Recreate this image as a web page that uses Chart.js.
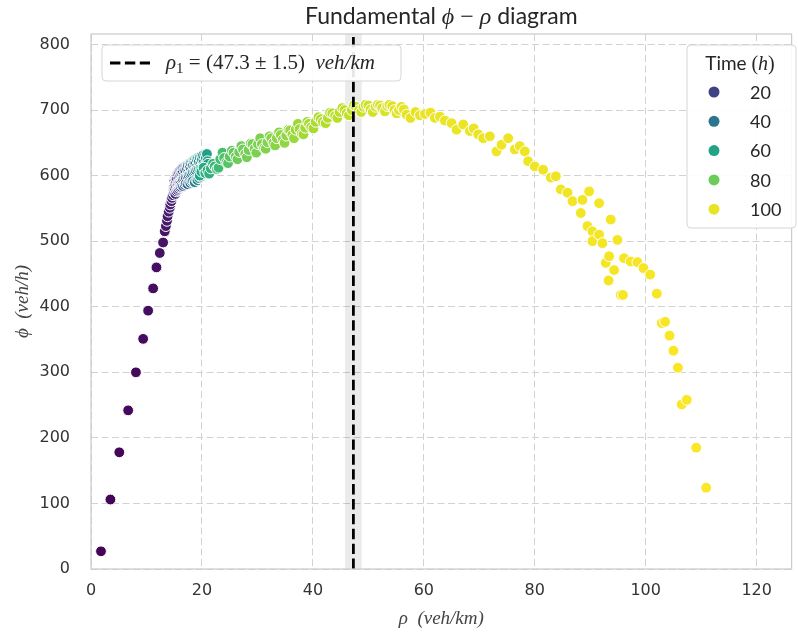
<!DOCTYPE html>
<html>
<head>
<meta charset="utf-8">
<script src="https://cdn.jsdelivr.net/npm/chart.js@4.4.0/dist/chart.umd.min.js"></script>
<style>
  html, body { margin: 0; padding: 0; background: #fff; }
  #wrap { width: 798px; height: 632px; }
</style>
</head>
<body>
<div id="wrap"><canvas id="grafico" width="798" height="632"></canvas></div>
<script>
// densidade (veh/km)
const rho = [
  1.8,3.5,5.1,6.7,8.1,9.4,10.3,11.2,11.8,12.4,13.0,13.3,13.5,13.7,13.8,14.0,14.2,14.3,14.5,14.6,
  14.8,14.9,14.95,15.0,15.05,15.1,15.15,15.2,15.25,15.3,15.35,15.4,15.45,15.5,15.55,15.6,15.65,15.7,15.75,15.8,
  15.85,15.9,15.95,16.0,16.05,16.1,16.15,16.2,16.25,16.3,16.35,16.4,16.45,16.5,16.55,16.6,16.65,16.7,16.8,16.9,
  16.95,17.0,17.05,17.1,17.2,17.3,17.35,17.4,17.45,17.5,17.6,17.7,17.75,17.8,17.85,17.9,17.95,18.0,18.1,18.2,
  18.25,18.3,18.35,18.4,18.5,18.6,18.65,18.7,18.75,18.8,18.9,19.0,19.05,19.1,19.15,19.2,19.3,19.4,19.45,19.5,
  19.6,19.7,19.75,19.8,19.9,20.0,20.05,20.1,20.2,20.3,20.4,20.5,20.6,20.7,20.75,20.8,20.9,21.0,21.1,21.2,
  19.6,19.9,20.3,20.6,21.0,21.3,21.6,22.0,22.3,22.7,23.0,23.3,23.7,24.0,24.4,24.7,25.0,25.4,25.7,26.1,
  26.4,26.7,27.1,27.4,27.8,28.1,28.4,28.8,29.1,29.5,29.8,30.1,30.5,30.8,31.2,31.5,31.8,32.2,32.5,32.9,
  33.2,33.5,33.9,34.2,34.6,34.9,35.2,35.6,35.9,36.3,36.6,36.9,37.3,37.6,38.0,38.3,38.6,39.0,39.3,39.7,
  40.1,40.5,41.0,41.4,41.8,42.3,42.7,43.1,43.5,44.0,44.4,44.8,45.3,45.7,46.1,46.5,47.0,47.4,47.8,48.3,
  48.7,49.1,49.5,50.0,50.4,50.8,51.3,51.7,52.1,52.5,53.0,53.4,53.8,54.3,54.7,55.1,55.5,56.0,56.4,56.9,
  57.6,58.5,59.3,60.2,61.2,62.0,62.9,63.8,65.0,65.9,67.1,68.3,69.0,69.8,70.7,71.9,73.1,74.0,75.2,76.4,
  77.3,78.2,78.8,80.0,81.5,82.9,83.8,84.7,85.9,86.8,88.3,88.6,89.5,89.8,90.4,90.4,91.6,91.6,92.2,92.8,
  93.4,93.7,93.3,94.3,94.9,95.5,95.9,96.1,97.3,98.5,99.6,100.8,102.0,102.9,103.5,104.3,105.0,105.8,106.5,107.4,
  109.1,110.9
];
// fluxo (veh/h)
const phi = [
  27,106,178,242,300,351,394,428,460,482,498,515,523,531,538,545,551,556,561,566,
  570,578,583,574,592,585,579,572,598,590,583,576,600,594,587,578,603,589,586,580,
  605,597,590,582,608,600,591,583,609,603,594,585,611,606,595,584,612,600,597,586,
  612,608,598,588,614,611,600,587,616,604,601,590,618,613,603,589,619,609,604,591,
  621,616,606,592,622,612,607,590,624,619,608,594,625,614,610,593,627,621,611,596,
  628,617,612,598,630,624,613,600,631,620,615,602,632,627,616,603,633,622,618,605,
  600,606,612,604,608,603,611,618,614,610,612,625,635,627,620,619,629,638,635,629,
  625,636,645,640,633,628,639,649,648,641,635,648,657,648,642,641,651,660,657,650,
  646,657,666,662,655,650,661,670,669,662,657,670,679,671,664,663,673,682,679,674,
  672,682,689,686,682,680,688,696,695,691,688,697,703,700,695,692,700,707,705,700,
  697,705,708,707,701,697,705,708,707,703,698,706,708,706,700,695,700,705,701,693,
  688,697,692,694,696,688,690,684,680,670,678,668,672,663,657,660,637,647,657,640,
  645,637,622,614,609,597,599,579,574,561,543,563,523,576,515,500,558,510,497,467,
  477,533,440,456,502,418,418,474,469,468,459,449,420,375,377,356,333,307,251,258,
  185,124
];
// tempo (h) de cada ponto, lido pela cor
const horas = [
  0.5,1,1.5,2,2.5,3,3.5,4,4.5,5,5.5,6,6.5,7,7.5,8,8.5,9,9.5,10,
  10.5,11,11.5,12,12.5,13,13.5,14,14.5,15,15.5,16,16.5,17,17.5,18,18.5,19,19.5,20,
  20.5,21,21.5,22,22.5,23,23.5,24,24.5,25,25.5,26,26.5,27,27.5,28,28.5,29,29.5,30,
  30.5,31,31.5,32,32.5,33,33.5,34,34.5,35,35.5,36,36.5,37,37.5,38,38.5,39,39.5,40,
  40.5,41,41.5,42,42.5,43,43.5,44,44.5,45,45.5,46,46.5,47,47.5,48,48.5,49,49.5,50,
  50.5,51,51.5,52,52.5,53,53.5,54,54.5,55,55.5,56,56.5,57,57.5,58,58.5,59,59.5,60,
  61,62,63,64,65,66,67,68,69,70,71,72,73,74,75,76,77,78,79,80,
  80.25,80.5,80.75,81,81.25,81.5,81.75,82,82.25,82.5,82.75,83,83.25,83.5,83.75,84,84.25,84.5,84.75,85,
  85.25,85.5,85.75,86,86.25,86.5,86.75,87,87.25,87.5,87.75,88,88.25,88.5,88.75,89,89.25,89.5,89.75,90,
  90.25,90.5,90.75,91,91.25,91.5,91.75,92,92.25,92.5,92.75,93,93.25,93.5,93.75,94,94.25,94.5,94.75,95,
  95.25,95.5,95.75,96,96.25,96.5,96.75,97,97.25,97.5,97.75,98,98.25,98.5,98.75,99,99.25,99.5,99.75,100,
  100.05,100.1,100.15,100.2,100.25,100.3,100.35,100.4,100.45,100.5,100.55,100.6,100.65,100.7,100.75,100.8,100.85,100.9,100.95,101,
  101.05,101.1,101.15,101.2,101.25,101.3,101.35,101.4,101.45,101.5,101.55,101.6,101.65,101.7,101.75,101.8,101.85,101.9,101.95,102,
  102.05,102.1,102.15,102.2,102.25,102.3,102.35,102.4,102.45,102.5,102.55,102.6,102.65,102.7,102.75,102.8,102.85,102.9,102.95,103,
  103.05,103.1
];
const horasLegenda = [20, 40, 60, 80, 100];
const rho1 = 47.3;
const rho1Erro = 1.5;
const xMax = 126.3;
const yMax = 816;
const horaMax = 103.5;

// paleta viridis
const viridis = ['#440154','#482475','#414487','#355f8d','#2a788e','#21918c','#22a884','#44bf70','#7ad151','#bddf26','#fde725'];
function hexRgb(h) {
  return [parseInt(h.slice(1,3),16), parseInt(h.slice(3,5),16), parseInt(h.slice(5,7),16)];
}
function corHora(t) {
  let v = Math.min(1, Math.max(0, t / horaMax)) * 10;
  const i = Math.min(9, Math.floor(v)), f = v - i;
  const a = hexRgb(viridis[i]), b = hexRgb(viridis[i+1]);
  const c = a.map((q, k) => Math.round(q + (b[k] - q) * f));
  return `rgb(${c[0]},${c[1]},${c[2]})`;
}

const sans = '"Lato", "DejaVu Sans", sans-serif';
const tickFont = '"DejaVu Sans", sans-serif';
const serif = '"Liberation Serif", "DejaVu Serif", serif';

// escreve trechos com fontes diferentes na mesma linha
function escrever(ctx, partes, x, y, alinhar) {
  let total = 0;
  partes.forEach(p => { ctx.font = p.font; p.w = ctx.measureText(p.text).width; total += p.w; });
  let cx = alinhar === 'center' ? x - total / 2 : x;
  ctx.textAlign = 'left';
  ctx.textBaseline = 'alphabetic';
  partes.forEach(p => { ctx.font = p.font; ctx.fillText(p.text, cx, y + (p.dy || 0)); cx += p.w; });
}

function caixa(ctx, x, y, w, h) {
  ctx.beginPath();
  ctx.roundRect(x, y, w, h, 4);
  ctx.fillStyle = 'rgba(255,255,255,0.9)';
  ctx.fill();
  ctx.strokeStyle = '#d6d6d6';
  ctx.lineWidth = 1;
  ctx.stroke();
}

const decoracao = {
  id: 'decoracao',
  beforeDatasetsDraw(chart) {
    const { ctx, chartArea: a, scales: { x } } = chart;
    const x0 = x.getPixelForValue(rho1 - rho1Erro);
    const x1 = x.getPixelForValue(rho1 + rho1Erro);
    ctx.save();
    ctx.fillStyle = 'rgba(0,0,0,0.08)';
    ctx.fillRect(x0, a.top, x1 - x0, a.bottom - a.top);
    ctx.restore();
  },
  afterDatasetsDraw(chart) {
    const { ctx, chartArea: a } = chart;
    ctx.save();
    ctx.strokeStyle = '#cccccc';
    ctx.lineWidth = 1.25;
    ctx.strokeRect(a.left, a.top, a.right - a.left, a.bottom - a.top);
    ctx.restore();
  },
  afterDraw(chart) {
    const { ctx, chartArea: a } = chart;
    ctx.save();
    // título
    ctx.fillStyle = '#262626';
    escrever(ctx, [
      { text: 'Fundamental ', font: '23px ' + sans },
      { text: 'ϕ', font: 'italic 24px ' + serif },
      { text: ' − ', font: '24px ' + serif },
      { text: 'ρ', font: 'italic 24px ' + serif },
      { text: ' diagram', font: '23px ' + sans }
    ], (a.left + a.right) / 2, 24, 'center');

    // legenda da linha vertical
    caixa(ctx, 102, 45, 299, 36);
    ctx.strokeStyle = '#000';
    ctx.lineWidth = 2.8;
    ctx.setLineDash([10.4, 4.5]);
    ctx.beginPath();
    ctx.moveTo(110, 63);
    ctx.lineTo(150, 63);
    ctx.stroke();
    ctx.setLineDash([]);
    ctx.fillStyle = '#262626';
    escrever(ctx, [
      { text: 'ρ', font: 'italic 21px ' + serif },
      { text: '1', font: '15px ' + serif, dy: 4 },
      { text: ' = (47.3 ± 1.5)  ', font: '21px ' + serif },
      { text: 'veh/km', font: 'italic 21px ' + serif }
    ], 166, 69, 'left');

    // legenda das horas
    caixa(ctx, 687, 45, 109, 183);
    ctx.fillStyle = '#262626';
    escrever(ctx, [
      { text: 'Time ', font: '19px ' + sans },
      { text: '(', font: '20px ' + serif },
      { text: 'h', font: 'italic 20px ' + serif },
      { text: ')', font: '20px ' + serif }
    ], 740, 70, 'center');
    horasLegenda.forEach((h, i) => {
      const y = 92 + i * 29.3;
      ctx.beginPath();
      ctx.arc(714, y, 5.5, 0, Math.PI * 2);
      ctx.fillStyle = corHora(h);
      ctx.fill();
      ctx.fillStyle = '#262626';
      ctx.font = '18px ' + sans;
      ctx.textAlign = 'left';
      ctx.textBaseline = 'middle';
      ctx.fillText(String(h), 750, y + 1);
    });
    ctx.restore();
  }
};

const pontos = rho.map((r, i) => ({ x: r, y: phi[i] }));

new Chart(document.getElementById('grafico').getContext('2d'), {
  type: 'scatter',
  data: {
    datasets: [
      {
        type: 'line',
        label: 'rho1',
        data: [{ x: rho1, y: 0 }, { x: rho1, y: yMax }],
        borderColor: '#000',
        borderWidth: 2.8,
        borderDash: [10.4, 4.5],
        pointRadius: 0,
        fill: false
      },
      {
        label: 'dados',
        data: pontos,
        pointRadius: 5.4,
        pointBackgroundColor: horas.map(corHora),
        pointBorderColor: '#ffffff',
        pointBorderWidth: 1
      }
    ]
  },
  options: {
    responsive: false,
    animation: false,
    layout: { padding: { top: 34, right: 1, left: 0, bottom: 0 } },
    plugins: { legend: { display: false }, tooltip: { enabled: false } },
    scales: {
      x: {
        type: 'linear',
        min: 0,
        max: xMax,
        afterFit: s => { s.height = 63; },
        ticks: { stepSize: 20, includeBounds: false, padding: 12, color: '#333', font: { family: tickFont, size: 16 } },
        grid: { color: '#d2d2d2', lineWidth: 1, drawTicks: false },
        border: { display: false, dash: [7, 3.5] },
        title: { display: true, text: 'ρ  (veh/km)', color: '#444', padding: { bottom: 2 },
                 font: { family: serif, size: 19, style: 'italic', lineHeight: 1.2 } }
      },
      y: {
        type: 'linear',
        min: 0,
        max: yMax,
        afterFit: s => { s.width = 91; },
        ticks: { stepSize: 100, includeBounds: false, padding: 21, color: '#333', font: { family: tickFont, size: 16 } },
        grid: { color: '#d2d2d2', lineWidth: 1, drawTicks: false },
        border: { display: false, dash: [7, 3.5] },
        title: { display: true, text: 'ϕ  (veh/h)', color: '#444', padding: { top: 12 },
                 font: { family: serif, size: 19, style: 'italic', lineHeight: 1.2 } }
      }
    }
  },
  plugins: [decoracao]
});
</script>
</body>
</html>
